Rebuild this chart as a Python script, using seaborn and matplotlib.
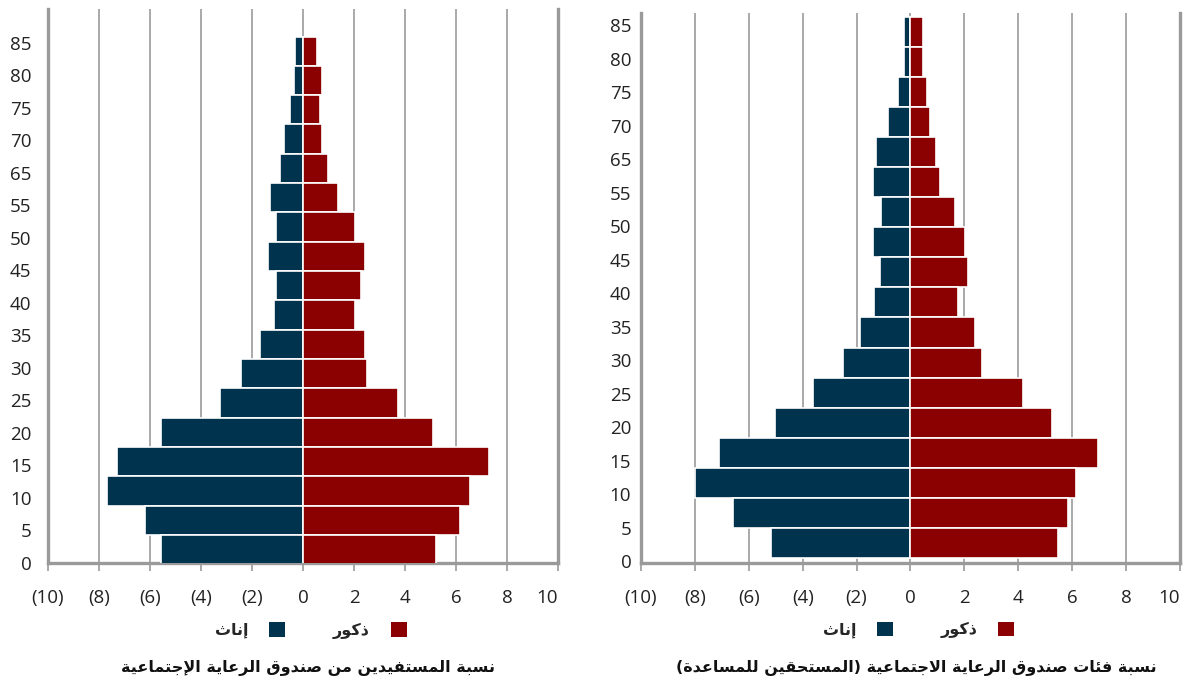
import matplotlib
matplotlib.use("Agg")
import matplotlib.pyplot as plt
import seaborn as sns
import pandas as pd
import numpy as np

# age groups, top of the pyramid first
ages = ["85", "80", "75", "70", "65", "60", "55", "50", "45", "40",
        "35", "30", "25", "20", "15", "10", "5", "0"]

# left panel: share of beneficiaries
left_female = [0.33, 0.36, 0.52, 0.73, 0.92, 1.30, 1.04, 1.39, 1.04, 1.12,
               1.68, 2.44, 3.24, 5.58, 7.28, 7.68, 6.21, 5.58]
left_male = [0.55, 0.76, 0.65, 0.75, 0.99, 1.37, 2.05, 2.45, 2.26, 2.03,
             2.42, 2.50, 3.71, 5.10, 7.28, 6.55, 6.17, 5.23]

# right panel: share of eligible groups
right_female = [0.24, 0.24, 0.47, 0.84, 1.29, 1.41, 1.11, 1.38, 1.14, 1.35,
                1.88, 2.51, 3.62, 5.04, 7.12, 8.00, 6.58, 5.16]
right_male = [0.45, 0.45, 0.63, 0.71, 0.95, 1.09, 1.65, 2.01, 2.12, 1.78,
              2.39, 2.65, 4.18, 5.25, 6.96, 6.15, 5.85, 5.46]

# axis labels as printed (the 60 label is absent in the source)
ytick_labels = ["0", "5", "10", "15", "20", "25", "30", "35", "40", "45",
                "50", "55", "65", "70", "75", "80", "85"]
xticks = [-10, -8, -6, -4, -2, 0, 2, 4, 6, 8, 10]
xtick_labels = ["(10)", "(8)", "(6)", "(4)", "(2)", "0", "2", "4", "6", "8", "10"]

label_male = "ذكور"
label_female = "إناث"
title_left = "نسبة المستفيدين من صندوق الرعاية الإجتماعية"
title_right = "نسبة فئات صندوق الرعاية الاجتماعية (المستحقين للمساعدة)"

NAVY = "#00334d"
RED = "#8b0000"
GRID = "#a3a3a3"
SPINE = "#9a9a9a"

# minimal arabic shaping (presentation forms + visual order)
DUAL = {'ئ': 0xFE89, 'ب': 0xFE8F, 'ت': 0xFE95, 'ث': 0xFE99, 'ج': 0xFE9D,
        'ح': 0xFEA1, 'خ': 0xFEA5, 'س': 0xFEB1, 'ش': 0xFEB5, 'ص': 0xFEB9,
        'ض': 0xFEBD, 'ط': 0xFEC1, 'ظ': 0xFEC5, 'ع': 0xFEC9, 'غ': 0xFECD,
        'ف': 0xFED1, 'ق': 0xFED5, 'ك': 0xFED9, 'ل': 0xFEDD, 'م': 0xFEE1,
        'ن': 0xFEE5, 'ه': 0xFEE9, 'ي': 0xFEF1}
RIGHT = {'آ': 0xFE81, 'أ': 0xFE83, 'ؤ': 0xFE85, 'إ': 0xFE87, 'ا': 0xFE8D,
         'ة': 0xFE93, 'د': 0xFEA9, 'ذ': 0xFEAB, 'ر': 0xFEAD, 'ز': 0xFEAF,
         'و': 0xFEED, 'ى': 0xFEEF}
LAMALEF = {'آ': 0xFEF5, 'أ': 0xFEF7, 'إ': 0xFEF9, 'ا': 0xFEFB}


def shape(text):
    units = []
    i = 0
    while i < len(text):
        if text[i] == 'ل' and i + 1 < len(text) and text[i + 1] in LAMALEF:
            units.append(("LA", text[i + 1]))
            i += 2
        else:
            units.append(("C", text[i]))
            i += 1

    def kind(u):
        if u[0] == "LA":
            return "R"
        if u[1] in DUAL:
            return "D"
        if u[1] in RIGHT:
            return "R"
        return None

    out = []
    for j, u in enumerate(units):
        k = kind(u)
        if k is None:
            out.append(u[1])
            continue
        jp = j > 0 and kind(units[j - 1]) == "D"
        jn = k == "D" and j + 1 < len(units) and kind(units[j + 1]) is not None
        if u[0] == "LA":
            out.append(chr(LAMALEF[u[1]] + (1 if jp else 0)))
        elif k == "R":
            out.append(chr(RIGHT[u[1]] + (1 if jp else 0)))
        else:
            idx = 3 if (jp and jn) else 1 if jp else 2 if jn else 0
            out.append(chr(DUAL[u[1]] + idx))
    return "".join(reversed(out)).translate(str.maketrans("()", ")("))


sns.set_style("white")
plt.rcParams["font.family"] = ["Open Sans", "DejaVu Sans"]

fig = plt.figure(figsize=(11.87, 6.81), dpi=100)


def pyramid(rect, female, male, title, ylim, tick_span, ypad):
    ax = fig.add_axes(rect)
    df = pd.DataFrame({
        "age": ages * 2,
        "value": [-v for v in female] + list(male),
        "sex": [shape(label_female)] * len(ages) + [shape(label_male)] * len(ages),
    })
    sns.barplot(data=df, x="value", y="age", hue="sex", order=ages,
                hue_order=[shape(label_female), shape(label_male)],
                palette=[NAVY, RED], saturation=1, dodge=False, width=1.0,
                edgecolor="white", linewidth=1.2, orient="h", ax=ax,
                legend=True, zorder=3)

    ax.set_xlim(-10, 10)
    ax.set_xticks(xticks)
    ax.set_xticklabels(xtick_labels)
    ax.set_ylim(*ylim)
    ax.set_yticks(np.linspace(tick_span[0], tick_span[1], len(ytick_labels)))
    ax.set_yticklabels(ytick_labels)
    ax.set_xlabel("")
    ax.set_ylabel("")

    ax.grid(axis="x", color=GRID, linewidth=1.3, zorder=0)
    ax.grid(axis="y", visible=False)
    ax.set_axisbelow(True)
    for side in ["left", "right", "bottom"]:
        ax.spines[side].set_color(SPINE)
        ax.spines[side].set_linewidth(2.4)
    ax.spines["top"].set_visible(False)

    ax.tick_params(axis="x", length=6, width=1.2, color=SPINE, direction="out",
                   pad=13, labelsize=13.5, labelcolor="#222222", bottom=True)
    ax.tick_params(axis="y", length=0, pad=ypad, labelsize=13.5,
                   labelcolor="#222222")
    ax.get_xticklabels()[-1].set_horizontalalignment("right")

    handles, labels = ax.get_legend_handles_labels()
    leg = ax.legend(handles, labels, loc="center", bbox_to_anchor=(0.515, -0.122),
                    ncol=2, frameon=False, markerfirst=False, handlelength=1.0,
                    handleheight=1.0, handletextpad=1.3, columnspacing=3.0,
                    prop={"family": "DejaVu Sans", "weight": "bold", "size": 11.5})
    for h in leg.legend_handles:
        h.set_edgecolor("none")

    ax.text(0.51, -0.19, shape(title), transform=ax.transAxes, ha="center",
            va="center", fontsize=11.5, fontweight="bold", family="DejaVu Sans",
            color="#111111")
    return ax


W, H = 1187, 681
pyramid([48 / W, 1 - 563 / H, 510 / W, 554 / H], left_female, left_male,
        title_left, (17.46, -1.44), (17.46, -0.29), 12)
pyramid([641 / W, 1 - 563 / H, 539 / W, 550 / H], right_female, right_male,
        title_right, (17.67, -0.63), (17.62, -0.23), 7)

fig.savefig("out.png", dpi=100)
